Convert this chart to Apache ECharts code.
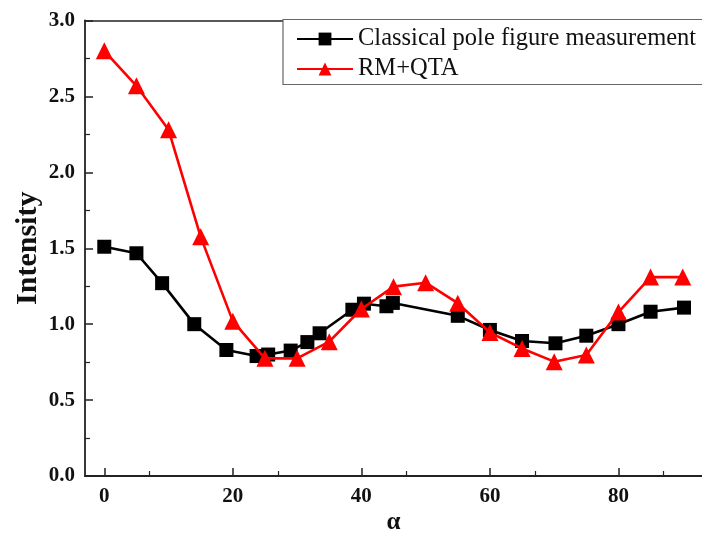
<!DOCTYPE html>
<html><head><meta charset="utf-8">
<script src="https://cdn.jsdelivr.net/npm/echarts@6/dist/echarts.min.js"></script>
<style>html,body{margin:0;padding:0;background:#fff}#c{width:702px;height:536px}</style>
</head><body><div id="c"></div>
<script>
const classicalX = [0, 5, 9, 14, 19, 23.7, 25.5, 29, 31.6, 33.5, 38.6, 40.4, 43.9, 44.9, 55, 60, 65, 70.2, 75, 80, 85, 90.2];
const classicalY = [1.51, 1.467, 1.27, 1.0, 0.83, 0.79, 0.80, 0.826, 0.882, 0.94, 1.095, 1.135, 1.118, 1.14, 1.055, 0.962, 0.889, 0.874, 0.924, 1.0, 1.082, 1.109];
const rmX = [0, 5, 10, 15, 20, 25, 30, 35, 40, 45, 50, 55, 60, 65, 70, 75, 80, 85, 90];
const rmY = [2.80, 2.57, 2.28, 1.575, 1.02, 0.775, 0.775, 0.885, 1.10, 1.247, 1.273, 1.138, 0.945, 0.84, 0.753, 0.797, 1.08, 1.31, 1.31];
const yTicks = [0.0, 0.5, 1.0, 1.5, 2.0, 2.5, 3.0];
const xName = 'α', yName = 'Intensity';
const names = ['Classical pole figure measurement', 'RM+QTA'];

const chart = echarts.init(document.getElementById('c'));
const serif = '"Liberation Serif","Times New Roman",serif';
chart.setOption({
  animation: false,
  backgroundColor: '#fff',
  grid: {left: 85, right: 0, top: 20.5, bottom: 60, outerBoundsMode: 'none', containLabel: false},
  legend: {
    orient: 'vertical', left: 283, top: 19.5, right: 0,
    padding: [7, 12, 3, 13], itemGap: 5,
    itemWidth: 56, itemHeight: 16,
    borderColor: '#666', borderWidth: 1.2, backgroundColor: '#fff',
    textStyle: {fontFamily: serif, fontSize: 24.5, color: '#111'},
    data: names
  },
  xAxis: [{
    type: 'value', min: -3, max: 93, interval: 20,
    axisLine: {show: true, onZero: false, lineStyle: {color: '#222', width: 1.8}},
    minorTick: {show: true, splitNumber: 2, length: 5, lineStyle: {color: '#222', width: 1.2}},
    splitLine: {show: false},
    axisLabel: {fontFamily: serif, fontWeight: 'bold', fontSize: 21, color: '#111', margin: 10,
      customValues: [0, 20, 40, 60, 80]},
    axisTick: {show: true, inside: true, length: 8, lineStyle: {color: '#222', width: 1.5},
      customValues: [0, 20, 40, 60, 80]},
    name: xName, nameLocation: 'middle', nameGap: 34, nameMoveOverlap: false,
    nameTextStyle: {fontFamily: serif, fontWeight: 'bold', fontSize: 25, color: '#111'}
  }, {
    type: 'value', position: 'top', min: -3, max: 93,
    axisLine: {show: true, onZero: false, lineStyle: {color: '#222', width: 1.5}},
    axisTick: {show: false}, axisLabel: {show: false}, splitLine: {show: false}
  }],
  yAxis: {
    type: 'value', min: 0, max: 3, interval: 0.5,
    axisLine: {show: true, onZero: false, lineStyle: {color: '#222', width: 1.8}},
    axisTick: {show: true, inside: true, length: 8, lineStyle: {color: '#222', width: 1.5}},
    minorTick: {show: true, splitNumber: 2, length: 5, lineStyle: {color: '#222', width: 1.2}},
    splitLine: {show: false},
    axisLabel: {fontFamily: serif, fontWeight: 'bold', fontSize: 21, color: '#111', margin: 10,
      formatter: v => yTicks.includes(v) ? v.toFixed(1) : ''},
    name: yName, nameLocation: 'middle', nameGap: 42, nameRotate: 90, nameMoveOverlap: false,
    nameTextStyle: {fontFamily: serif, fontWeight: 'bold', fontSize: 30, color: '#111'}
  },
  series: [{
    name: names[0], type: 'line',
    data: classicalX.map((x, i) => [x, classicalY[i]]),
    symbol: 'rect', symbolSize: 14,
    lineStyle: {color: '#000', width: 2.6},
    itemStyle: {color: '#000'}, z: 2
  }, {
    name: names[1], type: 'line',
    data: rmX.map((x, i) => [x, rmY[i]]),
    symbol: 'triangle', symbolSize: 17,
    lineStyle: {color: '#ff0000', width: 2.6},
    itemStyle: {color: '#ff0000'}, z: 3
  }]
});
</script></body></html>
